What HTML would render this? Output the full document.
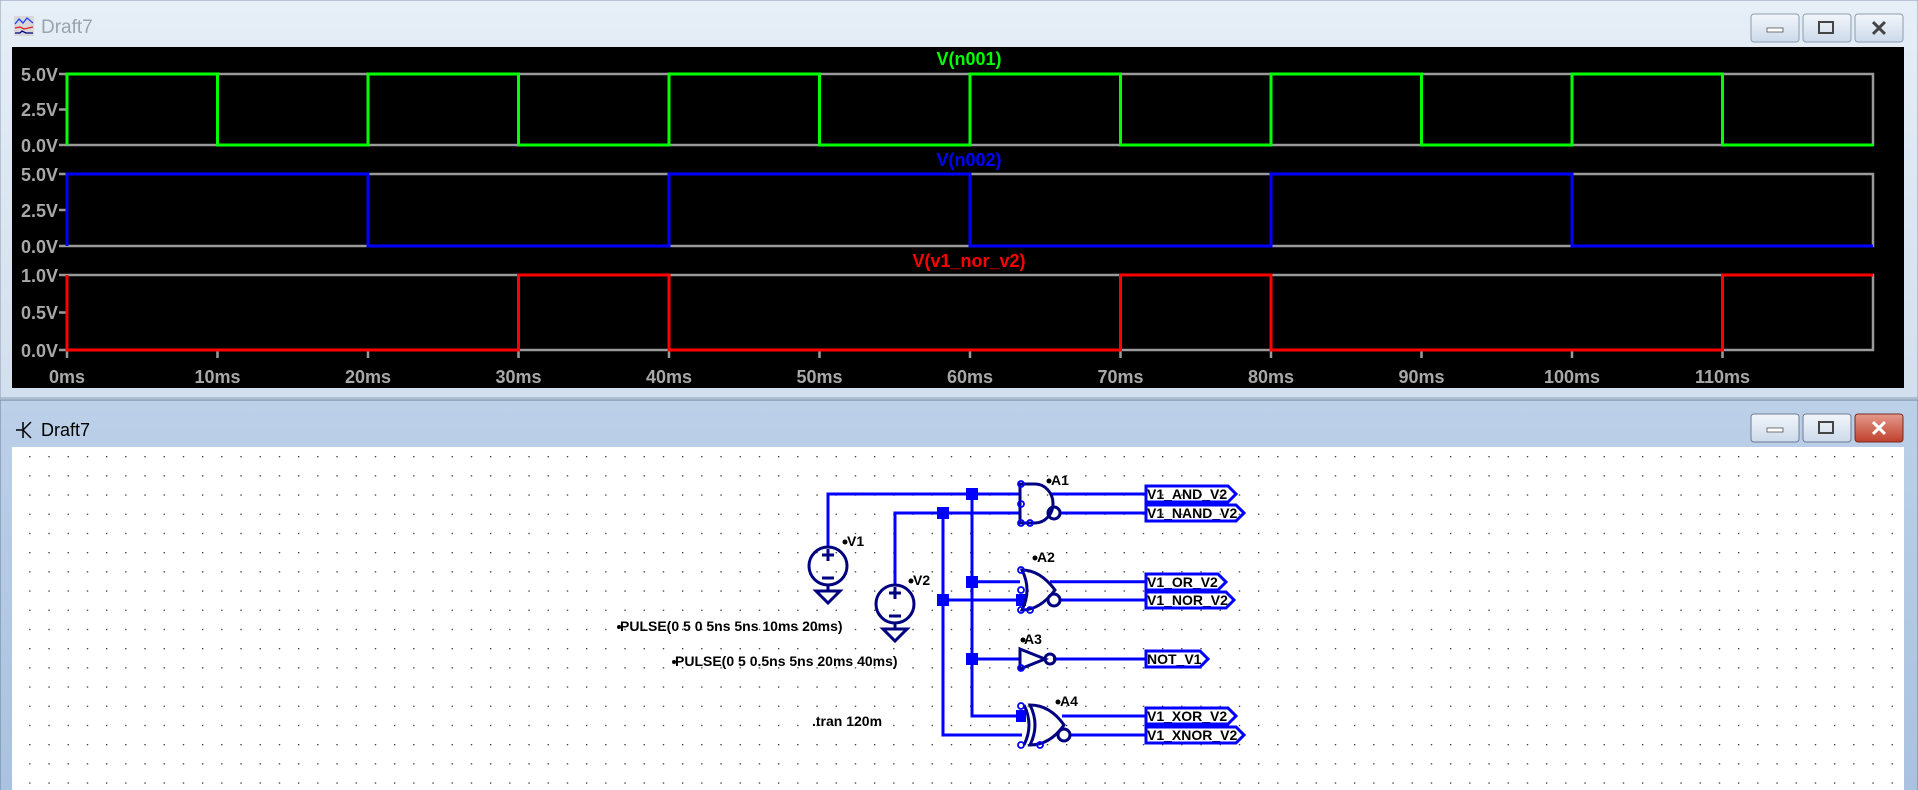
<!DOCTYPE html>
<html><head><meta charset="utf-8"><style>
html,body{margin:0;padding:0;width:1918px;height:790px;overflow:hidden;background:#d4e0ee}
svg{display:block}
text{font-family:"Liberation Sans",sans-serif}
</style></head><body>
<svg width="1918" height="790" viewBox="0 0 1918 790" xmlns="http://www.w3.org/2000/svg">
<defs>
<linearGradient id="tb" x1="0" y1="0" x2="0" y2="1"><stop offset="0" stop-color="#e6eef7"/><stop offset="1" stop-color="#d2dfee"/></linearGradient>
<linearGradient id="tb2" x1="0" y1="0" x2="0" y2="1"><stop offset="0" stop-color="#bcd0e8"/><stop offset="1" stop-color="#a9c2df"/></linearGradient>
<linearGradient id="btn" x1="0" y1="0" x2="0" y2="1"><stop offset="0" stop-color="#f2f6fb"/><stop offset="1" stop-color="#ccdaea"/></linearGradient>
<linearGradient id="btnr" x1="0" y1="0" x2="0" y2="1"><stop offset="0" stop-color="#e49a8c"/><stop offset="1" stop-color="#c0402c"/></linearGradient>
<pattern id="dots" x="10" y="456" width="19.2" height="19.2" patternUnits="userSpaceOnUse"><rect x="0" y="0" width="1.3" height="1.3" fill="#303030"/></pattern>
</defs>
<rect x="0" y="0" width="1918" height="398" fill="url(#tb)" stroke="#8a9bb0"/>
<g transform="translate(14,16)"><rect width="20" height="20" fill="#d8d8d8"/><polyline points="1,8 5,3 9,7 13,2 19,7" fill="none" stroke="#2040ff" stroke-width="1.3"/><polyline points="1,12 6,11 10,13 19,11" fill="none" stroke="#e02020" stroke-width="1.3"/><polyline points="1,17 6,17 8,15 12,17 19,17" fill="none" stroke="#000080" stroke-width="1.3"/></g>
<text x="41" y="33" font-size="19" fill="#9aa4ae">Draft7</text>
<rect x="1751" y="14" width="48" height="28" rx="3" fill="url(#btn)" stroke="#8c9cb0"/><rect x="1767" y="28" width="16" height="4" fill="#fff" stroke="#555" stroke-width="0.8"/>
<rect x="1803" y="14" width="48" height="28" rx="3" fill="url(#btn)" stroke="#8c9cb0"/><rect x="1819" y="22" width="14" height="11" fill="none" stroke="#444" stroke-width="2"/>
<rect x="1855" y="14" width="48" height="28" rx="3" fill="url(#btn)" stroke="#8c9cb0"/><text x="1879" y="36" font-size="22" font-weight="bold" fill="#444" text-anchor="middle">✕</text>
<rect x="12" y="47" width="1892" height="341" fill="#000"/>
<g fill="none" stroke="#9a9a9a" stroke-width="2.5">
<polyline points="67,74 1873,74 1873,145 67,145"/>
<polyline points="67,174 1873,174 1873,246 67,246"/>
<polyline points="67,275 1873,275 1873,350 67,350"/>
<path d="M59,74h8M59,109.5h8M59,145h8M59,174h8M59,210h8M59,246h8M59,275h8M59,312.5h8M59,350h8"/>
<path d="M67,350v8M217.5,350v8M368,350v8M518.5,350v8M669,350v8M819.5,350v8M970,350v8M1120.5,350v8M1271,350v8M1421.5,350v8M1572,350v8M1722.5,350v8"/>
</g>
<g font-size="18" fill="#a8a8a8" font-weight="bold" text-anchor="end">
<text x="58" y="81">5.0V</text><text x="58" y="116">2.5V</text><text x="58" y="152">0.0V</text>
<text x="58" y="181">5.0V</text><text x="58" y="217">2.5V</text><text x="58" y="253">0.0V</text>
<text x="58" y="282">1.0V</text><text x="58" y="319">0.5V</text><text x="58" y="357">0.0V</text>
</g>
<g font-size="18" fill="#a8a8a8" font-weight="bold" text-anchor="middle">
<text x="67" y="383">0ms</text><text x="217.5" y="383">10ms</text><text x="368" y="383">20ms</text><text x="518.5" y="383">30ms</text><text x="669" y="383">40ms</text><text x="819.5" y="383">50ms</text><text x="970" y="383">60ms</text><text x="1120.5" y="383">70ms</text><text x="1271" y="383">80ms</text><text x="1421.5" y="383">90ms</text><text x="1572" y="383">100ms</text><text x="1722.5" y="383">110ms</text>
</g>
<text x="969" y="65" font-size="18" font-weight="bold" fill="#00ff00" text-anchor="middle">V(n001)</text>
<text x="969" y="166" font-size="18" font-weight="bold" fill="#0000ff" text-anchor="middle">V(n002)</text>
<text x="969" y="267" font-size="18" font-weight="bold" fill="#ff0000" text-anchor="middle">V(v1_nor_v2)</text>
<g fill="none" stroke-width="3">
<polyline stroke="#00ff00" points="67,145 67,74 217.5,74 217.5,145 368,145 368,74 518.5,74 518.5,145 669,145 669,74 819.5,74 819.5,145 970,145 970,74 1120.5,74 1120.5,145 1271,145 1271,74 1421.5,74 1421.5,145 1572,145 1572,74 1722.5,74 1722.5,145 1873,145"/>
<polyline stroke="#0000ff" points="67,246 67,174 368,174 368,246 669,246 669,174 970,174 970,246 1271,246 1271,174 1572,174 1572,246 1873,246"/>
<polyline stroke="#ff0000" points="67,275 67,350 518.5,350 518.5,275 669,275 669,350 1120.5,350 1120.5,275 1271,275 1271,350 1722.5,350 1722.5,275 1873,275"/>
</g>
<rect x="0" y="400" width="1918" height="392" fill="url(#tb2)" stroke="#6a7f9a"/>
<g stroke="#000" stroke-width="1.5" fill="none"><path d="M16,430h7M23,422v16M23,430l8,-8M23,430l8,8"/></g>
<text x="41" y="436" font-size="18" fill="#000">Draft7</text>
<rect x="1751" y="414" width="48" height="28" rx="3" fill="url(#btn)" stroke="#6c7c94"/><rect x="1767" y="428" width="16" height="4" fill="#fff" stroke="#555" stroke-width="0.8"/>
<rect x="1803" y="414" width="48" height="28" rx="3" fill="url(#btn)" stroke="#6c7c94"/><rect x="1819" y="422" width="14" height="11" fill="none" stroke="#444" stroke-width="2"/>
<rect x="1855" y="414" width="48" height="28" rx="3" fill="url(#btnr)" stroke="#7a2a20"/><text x="1879" y="436" font-size="22" font-weight="bold" fill="#fff" text-anchor="middle">✕</text>
<rect x="12" y="447" width="1892" height="343" fill="#fff"/>
<rect x="12" y="447" width="1892" height="343" fill="url(#dots)"/>
<g stroke="#0000ff" stroke-width="3" fill="none">
<polyline points="828,548 828,494 1020,494"/>
<polyline points="895,585 895,513 1020,513"/>
<path d="M972,494V716H1022M943,513V735H1022M972,581.7H1020M943,600H1020M972,659H1020"/>
<path d="M1050,494H1146M1060,513H1146M1050,581.7H1146M1060,600H1146M1053,659H1146M1062,716H1146M1070,735H1146"/>
</g>
<g fill="#0000ff"><rect x="966" y="488" width="12" height="12"/><rect x="937" y="507" width="12" height="12"/><rect x="966" y="576" width="12" height="12"/><rect x="937" y="594" width="12" height="12"/><rect x="966" y="653" width="12" height="12"/><rect x="1016" y="594" width="10" height="12"/><rect x="1016" y="710" width="10" height="12"/></g>
<g stroke="#000080" stroke-width="3" fill="none">
<circle cx="828" cy="566" r="19"/><path d="M828,549v12M822,555h12M822,578h12M828,585v6"/><path d="M816,591h24l-12,12z"/>
<circle cx="895" cy="604" r="19"/><path d="M895,587v12M889,593h12M889,616h12M895,623v6"/><path d="M883,629h24l-12,12z"/>
</g>
<g stroke="#000080" stroke-width="3" fill="none">
<path d="M1020,484H1035A18,19.5 0 0 1 1035,523H1020Z"/><circle cx="1054" cy="513" r="6"/>
<path d="M1022,570Q1040,570 1055,590Q1040,610 1022,610Q1032,590 1022,570Z"/><circle cx="1054" cy="600" r="6"/>
<path d="M1020,649L1045,659L1020,669Z"/><circle cx="1050" cy="659" r="5"/>
<path d="M1030,705Q1050,705 1064,725Q1050,745 1030,745Q1040,725 1030,705Z"/><path d="M1024,705Q1034,725 1024,745"/><circle cx="1064" cy="735" r="6"/>
</g>
<g fill="none" stroke="#0000ff" stroke-width="1.8">
<circle cx="1021" cy="484" r="3"/><circle cx="1021" cy="504" r="3"/><circle cx="1021" cy="523" r="3"/><circle cx="1030" cy="523" r="3"/>
<circle cx="1021" cy="570" r="3"/><circle cx="1021" cy="590" r="3"/><circle cx="1021" cy="610" r="3"/><circle cx="1030" cy="610" r="3"/>
<circle cx="1021" cy="668" r="3"/><circle cx="1021" cy="706" r="3"/><circle cx="1021" cy="745" r="3"/><circle cx="1040" cy="745" r="3"/>
</g>
<g stroke="#0000ff" stroke-width="3" fill="none">
<path d="M1146,486H1228L1236,494L1228,502H1146Z"/>
<path d="M1146,505H1236L1244,513L1236,521H1146Z"/>
<path d="M1146,574H1218L1226,582L1218,590H1146Z"/>
<path d="M1146,592H1226L1234,600L1226,608H1146Z"/>
<path d="M1146,651H1200L1208,659L1200,667H1146Z"/>
<path d="M1146,708H1228L1236,716L1228,724H1146Z"/>
<path d="M1146,727H1236L1244,735L1236,743H1146Z"/>
</g>
<g font-size="14" font-weight="bold" fill="#000">
<text x="1147" y="499">V1_AND_V2</text><text x="1147" y="518">V1_NAND_V2</text><text x="1147" y="587">V1_OR_V2</text><text x="1147" y="605">V1_NOR_V2</text><text x="1147" y="664">NOT_V1</text><text x="1147" y="721">V1_XOR_V2</text><text x="1147" y="740">V1_XNOR_V2</text>
<text x="1051" y="485">A1</text><text x="1037" y="562">A2</text><text x="1024" y="644">A3</text><text x="1060" y="706">A4</text>
<text x="847" y="546">V1</text><text x="913" y="585">V2</text>
<text x="620" y="631">PULSE(0 5 0 5ns 5ns 10ms 20ms)</text>
<text x="675" y="666">PULSE(0 5 0.5ns 5ns 20ms 40ms)</text>
<text x="812" y="726">.tran 120m</text>
</g>
<g fill="#000"><circle cx="1049" cy="481" r="2.5"/><circle cx="1035" cy="558" r="2.5"/><circle cx="1023" cy="640" r="2.5"/><circle cx="1058" cy="702" r="2.5"/><circle cx="845" cy="542" r="2.5"/><circle cx="911" cy="581" r="2.5"/><circle cx="619" cy="627" r="2"/><circle cx="674" cy="662" r="2"/></g>
</svg>
</body></html>
